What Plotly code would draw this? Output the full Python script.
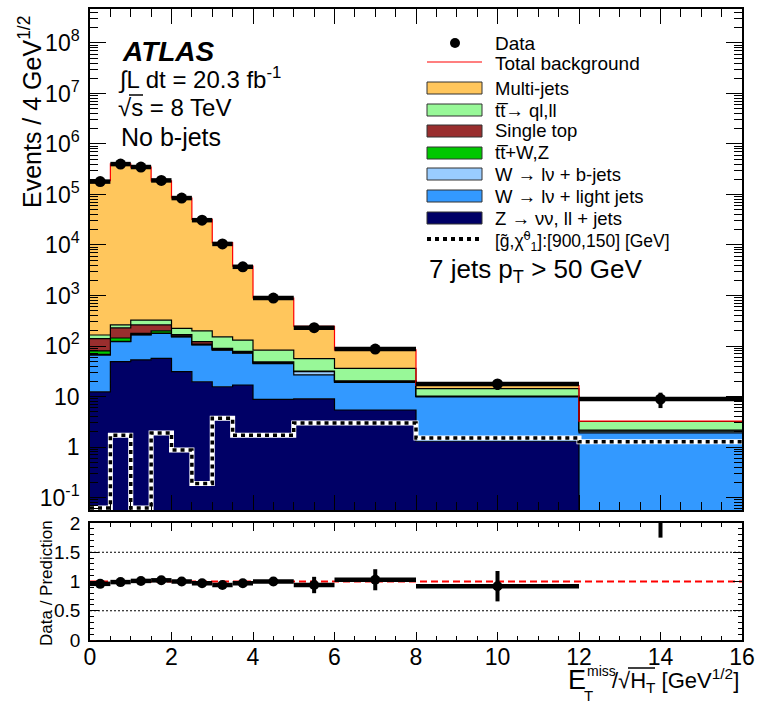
import plotly.graph_objects as go

# Bin edges in E_T^miss / sqrt(H_T) [GeV^1/2]
bin_edges = [0, 0.5, 1, 1.5, 2, 2.5, 3, 3.5, 4, 5, 6, 8, 12, 16]

# Background components (Events / 4 GeV^1/2), bottom of the stack first
z_nunu_ll = [12.4, 49, 53, 57, 31, 19.6, 15.6, 16.9, 8.8, 9.0, 5.4, 1.3, 0.0]
w_light = [53.6, 73, 113, 121, 121, 85, 67, 55, 36, 17.7, 13.6, 8.5, 1.9]
w_bjets = [2, 2, 2, 2, 2, 2, 1, 1, 1, 4.3, 0.5, 0.2, 0.15]
ttbar_wz = [12, 20, 10, 20, 4, 3, 2, 2, 1, 0.5, 0.5, 0.1, 0.05]
single_top = [60, 85, 84, 62, 10, 12, 4, 3, 2, 0.5, 0.5, 0.1, 0.05]
ttbar = [25, 33, 64, 64, 56, 78, 62, 53, 34, 24, 15.5, 4.1, 1.05]
multijets = [1.87e5, 4.05e5, 3.47e5, 1.86e5, 8.5e4, 3.2e4, 1.1e4, 3.7e3, 810, 190, 48, 2.2, 0.05]

# Observed data and uncertainties
data = [1.8e5, 4.0e5, 3.5e5, 1.9e5, 8.5e4, 3.1e4, 1.05e4, 3.7e3, 890, 230, 87, 17.7, 8.9]
data_err = [430, 630, 590, 440, 290, 180, 100, 60, 30, 30, 13, 4.2, 3.0]

# Data / prediction ratio
ratio = [0.96, 0.99, 1.01, 1.02, 1.0, 0.97, 0.94, 0.97, 1.0, 0.94, 1.03, 0.92, 2.75]
ratio_err = [0.003, 0.003, 0.003, 0.003, 0.005, 0.01, 0.015, 0.03, 0.07, 0.14, 0.18, 0.26, 1.0]

# Signal benchmark [gluino, neutralino] = [900, 150] GeV
signal = [0.062, 1.7, 0.062, 1.9, 0.87, 0.19, 3.7, 1.7, 1.7, 3.0, 3.0, 1.5, 1.27]

# Axis tick labels
y_main_ticks = [0.1, 1, 10, 1e2, 1e3, 1e4, 1e5, 1e6, 1e7, 1e8]
y_main_text = ["10<sup>-1</sup>", "1", "10", "10<sup>2</sup>", "10<sup>3</sup>", "10<sup>4</sup>",
               "10<sup>5</sup>", "10<sup>6</sup>", "10<sup>7</sup>", "10<sup>8</sup>"]
y_ratio_ticks = [0, 0.5, 1, 1.5, 2]
y_ratio_text = ["0", "0.5", "1", "1.5", "2"]
x_ticks = [0, 2, 4, 6, 8, 10, 12, 14, 16]

C_MJ = "#FFC65C"
C_TT = "#98F898"
C_ST = "#992E2E"
C_TTV = "#00C800"
C_WB = "#99CCFF"
C_WL = "#3399FF"
C_Z = "#000066"

FONT = "Liberation Sans, Arial, Helvetica, sans-serif"

# figure geometry (pixels)
W, H = 758, 704
ML, MR, MT, MB = 90, 16, 9, 64
PW, PH = W - ML - MR, H - MT - MB


def px_x(px):
    return (px - ML) / PW


def px_y(py):
    return (H - MB - py) / PH


centers = [(a + b) / 2 for a, b in zip(bin_edges[:-1], bin_edges[1:])]
half_w = [(b - a) / 2 for a, b in zip(bin_edges[:-1], bin_edges[1:])]

fig = go.Figure()

floor = 1e-3
fig.add_trace(go.Scatter(x=bin_edges, y=[floor] * len(bin_edges), mode="lines",
                         line=dict(width=0, color="rgba(0,0,0,0)"), hoverinfo="skip",
                         xaxis="x", yaxis="y"))

layers = [
    (z_nunu_ll, C_Z, "black"),
    (w_light, C_WL, "black"),
    (w_bjets, C_WB, "black"),
    (ttbar_wz, C_TTV, "black"),
    (single_top, C_ST, "black"),
    (ttbar, C_TT, "black"),
    (multijets, C_MJ, "red"),
]
cum = [0.0] * len(centers)
for vals, fillc, linec in layers:
    cum = [c + v for c, v in zip(cum, vals)]
    ys = [max(c, floor) for c in cum]
    ys.append(ys[-1])
    fig.add_trace(go.Scatter(x=bin_edges, y=ys, mode="lines",
                             line=dict(shape="hv", color=linec, width=1.2),
                             fill="tonexty", fillcolor=fillc, hoverinfo="skip",
                             xaxis="x", yaxis="y"))

# signal overlay: white underlay with black dots
sig_y = signal + [signal[-1]]
fig.add_trace(go.Scatter(x=bin_edges, y=sig_y, mode="lines",
                         line=dict(shape="hv", color="white", width=5),
                         xaxis="x", yaxis="y", hoverinfo="skip"))
fig.add_trace(go.Scatter(x=bin_edges, y=sig_y, mode="lines",
                         line=dict(shape="hv", color="black", width=3.5, dash="4px,4px"),
                         xaxis="x", yaxis="y", hoverinfo="skip"))

# data points
fig.add_trace(go.Scatter(x=centers, y=data, mode="markers",
                         marker=dict(color="black", size=11),
                         error_x=dict(type="data", array=half_w, color="black", thickness=4.5, width=0),
                         error_y=dict(type="data", array=data_err, color="black", thickness=4, width=0),
                         xaxis="x", yaxis="y"))

# ratio panel: reference line at unity and data/prediction
fig.add_trace(go.Scatter(x=[0, 16], y=[1, 1], mode="lines",
                         line=dict(color="red", width=2, dash="7px,4px"),
                         xaxis="x2", yaxis="y2", hoverinfo="skip"))
fig.add_trace(go.Scatter(x=centers, y=ratio, mode="markers",
                         marker=dict(color="black", size=10),
                         error_x=dict(type="data", array=half_w, color="black", thickness=4.5, width=0),
                         error_y=dict(type="data", array=ratio_err, color="black", thickness=4, width=0),
                         xaxis="x2", yaxis="y2"))

shapes = []
for lvl in (0.5, 1.5):
    shapes.append(dict(type="line", xref="x2", yref="y2", x0=0, x1=16, y0=lvl, y1=lvl,
                       line=dict(color="black", width=1, dash="2px,2px"), layer="below"))

# legend
leg_x0, leg_x1 = px_x(427), px_x(482)
legend_rows = [
    ("Multi-jets", C_MJ, 88),
    ("tt\u0305\u2192 ql,ll", C_TT, 110),
    ("Single top", C_ST, 131),
    ("tt\u0305+W,Z", C_TTV, 153),
    ("W \u2192 l\u03bd + b-jets", C_WB, 174),
    ("W \u2192 l\u03bd + light jets", C_WL, 196),
    ("Z \u2192 \u03bd\u03bd, ll + jets", C_Z, 218),
]
for _, col, yc in legend_rows:
    shapes.append(dict(type="rect", xref="paper", yref="paper", x0=leg_x0, x1=leg_x1,
                       y0=px_y(yc + 6), y1=px_y(yc - 6), fillcolor=col,
                       line=dict(color="#333333", width=1)))
shapes.append(dict(type="line", xref="paper", yref="paper", x0=leg_x0, x1=leg_x1,
                   y0=px_y(62), y1=px_y(62), line=dict(color="red", width=1.2)))
shapes.append(dict(type="line", xref="paper", yref="paper", x0=leg_x0, x1=leg_x1,
                   y0=px_y(239), y1=px_y(239), line=dict(color="black", width=4, dash="4px,4px")))
shapes.append(dict(type="circle", xref="paper", yref="paper", x0=px_x(450), x1=px_x(460),
                   y0=px_y(48), y1=px_y(38), fillcolor="black", line=dict(color="black", width=0)))

# overlines of the square-root signs
shapes.append(dict(type="line", xref="paper", yref="paper", x0=px_x(129), x1=px_x(143),
                   y0=px_y(95), y1=px_y(95), line=dict(color="black", width=1.5)))
shapes.append(dict(type="line", xref="paper", yref="paper", x0=px_x(628), x1=px_x(655),
                   y0=px_y(668), y1=px_y(668), line=dict(color="black", width=1.5)))

annotations = []


def text(s, px, py, size, xanchor="left", yanchor="middle", **kw):
    annotations.append(dict(text=s, x=px_x(px), y=px_y(py), xref="paper", yref="paper",
                            showarrow=False, xanchor=xanchor, yanchor=yanchor,
                            font=dict(size=size, family=FONT, color="black"), **kw))


text("Data", 493, 43, 19)
text("Total background", 493, 63, 19)
for lab, _, yc in legend_rows:
    text(lab, 493, yc, 18.5)
text("[g\u0303,\u03c7\u0303<sup>0</sup><sub>1</sub>]:[900,150] [GeV]", 493, 241, 17.5)
text("7 jets p<sub>T</sub> > 50 GeV", 427, 270, 26)

text("<b><i>ATLAS</i></b>", 120, 52, 28)
text("\u222bL dt = 20.3 fb<sup>-1</sup>", 116, 79, 24)
text("\u221as = 8 TeV", 116, 107, 24)
text("No b-jets", 119, 137, 25)

# axis titles
text("Events / 4 GeV<sup>1/2</sup>", 30, 112, 25, xanchor="center", textangle=-90)
text("Data / Prediction", 46, 583, 17, xanchor="center", textangle=-90)
text("E", 566, 680, 27)
text("miss", 585, 671, 14)
text("T", 582, 695, 15)
text("/\u221aH<sub>T</sub> [GeV<sup>1/2</sup>]", 610, 680, 22)

axis_common = dict(showline=True, linecolor="black", linewidth=1.5, mirror="allticks",
                   showgrid=False, zeroline=False, ticks="inside", tickcolor="black",
                   automargin=False)

minor_log = [k * 10 ** n for n in range(-2, 9) for k in range(2, 10)]

fig.update_layout(
    width=W, height=H, margin=dict(l=ML, r=MR, t=MT, b=MB, pad=0, autoexpand=False),
    paper_bgcolor="white", plot_bgcolor="white", showlegend=False,
    font=dict(family=FONT, color="black"),
    xaxis=dict(domain=[0, 1], range=[0, 16], anchor="y", showticklabels=False,
               tickvals=x_ticks, ticklen=15, minor=dict(ticks="inside", ticklen=8, dtick=0.5, tick0=0),
               **axis_common),
    yaxis=dict(domain=[px_y(510), 1], type="log", range=[-1.2475, 8.673], anchor="x",
               tickvals=y_main_ticks, ticktext=y_main_text, ticklen=16,
               tickfont=dict(size=23, family=FONT), ticklabelstandoff=4,
               minor=dict(ticks="inside", ticklen=8, tickvals=minor_log),
               **axis_common),
    xaxis2=dict(domain=[0, 1], range=[0, 16], anchor="y2", tickvals=x_ticks,
                ticktext=[str(v) for v in x_ticks], ticklen=8,
                tickfont=dict(size=23, family=FONT), ticklabelstandoff=-4,
                minor=dict(ticks="inside", ticklen=4, dtick=0.5, tick0=0),
                **axis_common),
    yaxis2=dict(domain=[0, px_y(523)], range=[0, 2], anchor="x2",
                tickvals=y_ratio_ticks, ticktext=y_ratio_text, ticklen=9,
                tickfont=dict(size=19, family=FONT), ticklabelstandoff=4,
                minor=dict(ticks="inside", ticklen=4, dtick=0.1, tick0=0),
                **axis_common),
    shapes=shapes,
    annotations=annotations,
)

fig.write_html("out.html")
